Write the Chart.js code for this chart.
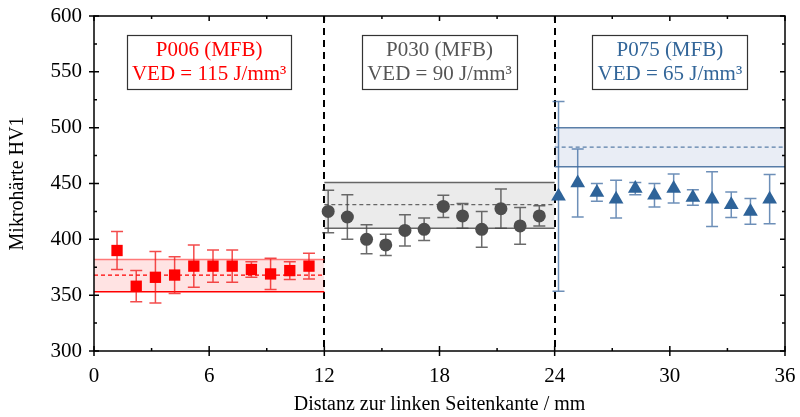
<!DOCTYPE html>
<html>
<head>
<meta charset="utf-8">
<script src="https://cdn.jsdelivr.net/npm/chart.js@4.4.1/dist/chart.umd.min.js"></script>
<style>
  html, body { margin: 0; padding: 0; background: #fff; }
</style>
</head>
<body>
<canvas id="hvChart" width="800" height="417"></canvas>
<script>
// Measurement positions (mm from left edge)
const xP006 = [1.2, 2.2, 3.2, 4.2, 5.2, 6.2, 7.2, 8.2, 9.2, 10.2, 11.2];
const xP030 = [12.2, 13.2, 14.2, 15.2, 16.2, 17.2, 18.2, 19.2, 20.2, 21.2, 22.2, 23.2];
const xP075 = [24.2, 25.2, 26.2, 27.2, 28.2, 29.2, 30.2, 31.2, 32.2, 33.2, 34.2, 35.2];

// Micro hardness HV1 and std deviation
const hvP006 = [390, 358, 366, 368, 376, 376, 376, 373, 369, 372, 376];
const errP006 = [17, 14, 23, 16.5, 19, 14.5, 14.5, 7, 14, 8, 11.5];
const hvP030 = [425, 420, 400, 395, 408, 409, 429.5, 421, 409, 427.5, 412, 421];
const errP030 = [19, 20, 13, 9.5, 14, 10, 10, 11, 16, 17.5, 16.5, 9];
const hvP075 = [438.5, 450.5, 442, 436, 445.5, 439.5, 445.5, 437.5, 436, 431, 425, 436];
const errP075 = [85, 30.5, 8, 17, 5.5, 10.5, 13, 7, 24.5, 11.5, 11.5, 22];

// Mean value bands: [from, to, lower, mean, upper]
const bandP006 = [0, 12, 353, 368, 382];
const bandP030 = [12, 24, 410, 431, 451];
const bandP075 = [24, 36, 465, 482.5, 500];

const xTicks = [0, 6, 12, 18, 24, 30, 36];
const yTicks = [300, 350, 400, 450, 500, 550, 600];
const sectionLines = [12, 24];

const labelLines = [
    ['P006 (MFB)', 'VED = 115 J/mm³'],
    ['P030 (MFB)', 'VED = 90 J/mm³'],
    ['P075 (MFB)', 'VED = 65 J/mm³']
];
const labelCenters = [6, 18, 30];

const colors = {
    red: '#ff0000',
    gray: '#4d4d4d',
    blue: '#2e6399'
};

const FONT = '"Liberation Serif", "DejaVu Serif", serif';

function pts(xs, ys) {
    return xs.map((x, i) => ({ x: x, y: ys[i] }));
}

function bandSets(b, lineCol, topCol, fillCol) {
    return [
        { type: 'line', data: [{ x: b[0], y: b[4] }, { x: b[1], y: b[4] }], borderColor: topCol, borderWidth: 1.5,
          pointRadius: 0, fill: '+1', backgroundColor: fillCol, order: 10 },
        { type: 'line', data: [{ x: b[0], y: b[2] }, { x: b[1], y: b[2] }], borderColor: lineCol, borderWidth: 1.5,
          pointRadius: 0, fill: false, order: 10 },
        { type: 'line', data: [{ x: b[0], y: b[3] }, { x: b[1], y: b[3] }], borderColor: lineCol, borderWidth: 1.2,
          borderDash: [4, 3], pointRadius: 0, fill: false, order: 9 }
    ];
}

function pointSet(xs, ys, errs, style, radius, col, errCol) {
    return {
        type: 'scatter', data: pts(xs, ys), pointStyle: style, pointRadius: radius,
        backgroundColor: col, borderColor: col, borderWidth: 0, order: 1,
        errorBars: errs, errorColor: errCol
    };
}

// Error bars, drawn before the markers through the chart scales
const errorBarPlugin = {
    id: 'errorBars',
    beforeDatasetDraw(chart, args) {
        const ds = chart.data.datasets[args.index];
        if (!ds.errorBars) return;
        const xs = chart.scales.x, ys = chart.scales.y;
        const ctx = chart.ctx;
        ctx.save();
        ctx.strokeStyle = ds.errorColor;
        ctx.lineWidth = 1.5;
        ds.data.forEach((p, i) => {
            const e = ds.errorBars[i];
            const px = xs.getPixelForValue(p.x);
            const top = ys.getPixelForValue(p.y + e);
            const bot = ys.getPixelForValue(p.y - e);
            ctx.beginPath();
            ctx.moveTo(px, top); ctx.lineTo(px, bot);
            ctx.moveTo(px - 6, top); ctx.lineTo(px + 6, top);
            ctx.moveTo(px - 6, bot); ctx.lineTo(px + 6, bot);
            ctx.stroke();
        });
        ctx.restore();
    }
};

// Section divider lines
const dividerPlugin = {
    id: 'dividers',
    beforeDatasetsDraw(chart) {
        const ctx = chart.ctx, a = chart.chartArea, xs = chart.scales.x;
        ctx.save();
        ctx.strokeStyle = '#000';
        ctx.lineWidth = 2;
        ctx.setLineDash([7, 5]);
        sectionLines.forEach(v => {
            const px = Math.round(xs.getPixelForValue(v));
            ctx.beginPath();
            ctx.moveTo(px, a.top); ctx.lineTo(px, a.bottom);
            ctx.stroke();
        });
        ctx.restore();
    }
};

// Frame, ticks and label boxes
const framePlugin = {
    id: 'frame',
    afterDraw(chart) {
        const ctx = chart.ctx, a = chart.chartArea;
        const xs = chart.scales.x, ys = chart.scales.y;
        ctx.save();
        ctx.strokeStyle = '#000';
        ctx.lineWidth = 1.5;
        ctx.strokeRect(a.left, a.top, a.right - a.left, a.bottom - a.top);
        ctx.beginPath();
        for (let v = 0; v <= 36; v += 3) {
            const px = xs.getPixelForValue(v);
            const major = v % 6 === 0;
            ctx.moveTo(px, a.bottom + (major ? 5 : 0)); ctx.lineTo(px, a.bottom - (major ? 5 : 3));
            ctx.moveTo(px, a.top); ctx.lineTo(px, a.top + (major ? 5 : 3));
        }
        for (let v = 300; v <= 600; v += 25) {
            const py = ys.getPixelForValue(v);
            const major = v % 50 === 0;
            ctx.moveTo(a.left - (major ? 5 : 0), py); ctx.lineTo(a.left + (major ? 5 : 3), py);
            ctx.moveTo(a.right, py); ctx.lineTo(a.right - (major ? 5 : 3), py);
        }
        ctx.stroke();

        // label boxes
        const boxCols = [colors.red, '#555555', '#336699'];
        ctx.font = '21px ' + FONT;
        ctx.textAlign = 'center';
        ctx.textBaseline = 'middle';
        labelLines.forEach((lines, i) => {
            const cx = xs.getPixelForValue(labelCenters[i]);
            const w = Math.max(...lines.map(t => ctx.measureText(t).width)) + 10;
            const top = a.top + 19, h = 54;
            ctx.fillStyle = '#fff';
            ctx.fillRect(cx - w / 2, top, w, h);
            ctx.strokeStyle = '#333';
            ctx.lineWidth = 1.2;
            ctx.strokeRect(Math.round(cx - w / 2) + 0.5, top + 0.5, Math.round(w), h);
            ctx.fillStyle = boxCols[i];
            ctx.fillText(lines[0], cx, top + 15);
            ctx.fillText(lines[1], cx, top + 39);
        });
        ctx.restore();
    }
};

const datasets = [
    ...bandSets(bandP006, 'rgba(255,0,0,1)', 'rgba(255,70,70,0.7)', 'rgba(255,0,0,0.11)'),
    ...bandSets(bandP030, '#666666', '#666666', 'rgba(120,120,120,0.15)'),
    ...bandSets(bandP075, '#5a7fa8', '#5a7fa8', 'rgba(70,110,170,0.12)'),
    pointSet(xP006, hvP006, errP006, 'rect', 8, colors.red, 'rgba(240,30,30,0.8)'),
    pointSet(xP030, hvP030, errP030, 'circle', 6.5, colors.gray, 'rgba(70,70,70,0.8)'),
    pointSet(xP075, hvP075, errP075, 'triangle', 8.5, colors.blue, 'rgba(60,105,160,0.75)')
];

new Chart(document.getElementById('hvChart'), {
    type: 'scatter',
    data: { datasets: datasets },
    plugins: [dividerPlugin, errorBarPlugin, framePlugin],
    options: {
        responsive: false,
        devicePixelRatio: 1,
        animation: false,
        layout: { padding: { top: 16, right: 15, left: 0, bottom: 0 } },
        plugins: { legend: { display: false }, tooltip: { enabled: false } },
        scales: {
            x: {
                type: 'linear', min: 0, max: 36,
                afterFit: s => { s.height = 66; s.paddingLeft = 0; s.paddingRight = 0; },
                afterBuildTicks: s => { s.ticks = xTicks.map(v => ({ value: v })); },
                grid: { display: false, drawTicks: false },
                border: { display: false },
                ticks: { color: '#000', padding: 13, autoSkip: false, maxRotation: 0,
                         font: { family: FONT, size: 21 } },
                title: { display: true, text: 'Distanz zur linken Seitenkante / mm', color: '#000',
                         padding: { top: 0, bottom: 0 }, font: { family: FONT, size: 20 } }
            },
            y: {
                type: 'linear', min: 300, max: 600,
                afterFit: s => { s.width = 94; s.paddingTop = 0; s.paddingBottom = 0; },
                afterBuildTicks: s => { s.ticks = yTicks.map(v => ({ value: v })); },
                grid: { display: false, drawTicks: false },
                border: { display: false },
                ticks: { color: '#000', padding: 12, autoSkip: false,
                         font: { family: FONT, size: 21 } },
                title: { display: true, text: 'Mikrohärte HV1', color: '#000',
                         padding: { top: 6, bottom: 0 }, font: { family: FONT, size: 20 } }
            }
        }
    }
});
</script>
</body>
</html>
